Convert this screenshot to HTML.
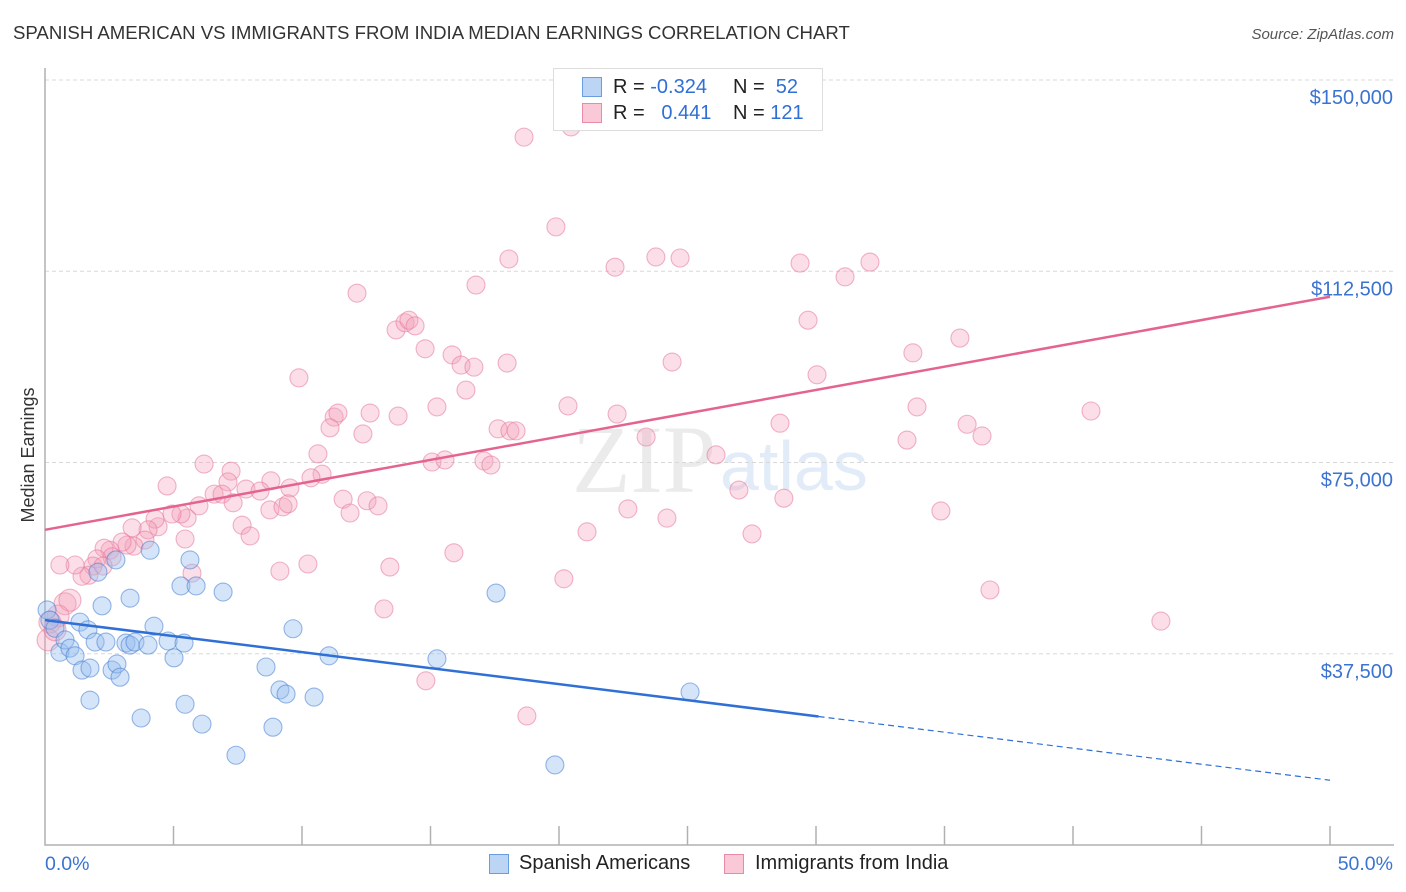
<!DOCTYPE html>
<html><head><meta charset="utf-8">
<style>
body{margin:0;background:#fff;font-family:"Liberation Sans",sans-serif;}
#wrap{position:relative;width:1406px;height:892px;overflow:hidden;}
</style></head>
<body><div id="wrap">
<svg id="svg" width="1406" height="892" xmlns="http://www.w3.org/2000/svg">
<text x="13" y="39" font-size="18.6" fill="#333">SPANISH AMERICAN VS IMMIGRANTS FROM INDIA MEDIAN EARNINGS CORRELATION CHART</text>
<text x="1394" y="39" font-size="15" fill="#555" font-style="italic" text-anchor="end">Source: ZipAtlas.com</text>
<text transform="translate(34,455) rotate(-90)" font-size="18" fill="#333" text-anchor="middle">Median Earnings</text>
<text x="716" y="492" font-size="96" fill="#ebebeb" text-anchor="end" font-family="Liberation Serif,serif">ZIP</text>
<text x="720" y="490" font-size="70" fill="#e2ecf8">atlas</text>
<g id="grid"></g><g id="pts"></g><g id="trend"></g>
</svg></div>
<script>
const yTicks=[37500,75000,112500,150000];
const yTickLabels=["$37,500","$75,000","$112,500","$150,000"];
const blueX=[0.08,0.19,0.39,0.58,0.78,0.97,1.17,1.36,1.44,1.67,1.75,2.06,1.75,1.95,2.22,2.37,2.61,2.80,2.92,2.76,3.15,3.31,3.31,3.50,3.74,4.01,4.09,4.24,4.79,5.02,5.29,5.41,5.45,5.64,5.88,6.11,6.93,7.43,8.60,8.87,9.14,9.38,9.65,10.47,11.05,15.25,17.55,19.84,25.10];
const blueY=[46.1,44.1,42.5,37.8,40.2,38.6,37.1,43.7,34.3,42.2,34.7,53.5,28.4,39.8,46.9,39.8,34.3,35.5,32.9,55.9,39.6,48.4,39.2,39.8,24.9,39.2,57.8,42.9,40.0,36.7,50.8,39.6,27.6,55.9,50.8,23.7,49.6,17.6,34.9,23.1,30.4,29.6,42.4,29.0,37.1,36.5,49.4,15.7,30.0];
const pinkX=[18.64,20.47,19.88,18.05,22.18,23.77,24.71,29.38,31.13,32.10,16.77,12.14,13.66,14.01,14.16,14.40,14.79,15.84,16.19,16.69,17.98,16.38,9.88,24.40,29.69,35.60,33.77,30.04,40.70,33.93,35.88,36.46,33.54,28.60,23.39,22.26,20.35,15.25,13.74,12.65,11.25,11.40,11.09,12.37,17.63,18.09,18.33,15.06,15.56,17.08,17.35,10.62,10.78,10.35,9.53,8.79,7.82,7.24,7.12,6.58,6.19,5.99,5.53,5.29,4.94,4.75,4.40,4.28,4.01,3.89,3.39,3.46,3.19,3.00,2.53,2.30,2.61,2.02,1.87,2.26,1.71,1.44,1.17,0.58,0.78,0.97,0.51,0.19,0.12,0.39,5.45,5.72,7.67,7.98,8.37,8.75,9.26,9.46,9.14,10.23,11.60,11.87,12.53,12.96,13.42,13.19,14.82,15.91,18.75,20.19,21.09,22.68,24.20,26.11,27.00,27.51,28.75,34.86,36.77,43.42,6.89,7.32];
const pinkY=[138.8,140.8,121.2,114.9,113.3,115.3,115.1,114.1,111.4,114.3,109.8,108.2,101.0,102.4,102.9,101.8,97.3,96.1,94.1,93.7,94.5,89.2,91.6,94.7,102.9,99.4,96.5,92.2,85.1,85.9,82.5,80.2,79.4,82.7,80.0,84.5,86.1,85.9,84.1,84.7,83.9,84.7,81.8,80.6,81.6,81.2,81.2,75.1,75.5,75.3,74.5,76.7,72.7,72.0,70.0,71.4,69.8,73.3,71.2,68.8,74.7,66.5,64.1,64.9,64.9,70.4,62.4,63.9,61.8,59.8,62.2,58.6,58.8,59.4,57.8,58.2,56.5,56.1,54.7,54.7,52.9,52.7,54.9,54.9,47.3,48.0,44.9,43.7,40.2,42.2,60.0,53.3,62.7,60.6,69.4,65.7,66.3,66.9,53.7,55.1,67.8,65.1,67.5,66.5,54.5,46.3,32.2,57.3,25.3,52.2,61.4,65.9,64.1,76.5,69.6,61.0,68.0,65.5,50.0,43.9,68.8,67.1];
const blueTrend=[44.1,12.7]; const blueSolidEnd=30.1;
const pinkTrend=[61.8,107.5];
const X0=45,X1=1330,Y0=845;
const sx=p=>X0+(p/50)*(X1-X0);
const sy=v=>Y0-v*(765/150000);
const NS="http://www.w3.org/2000/svg";
function mk(tag,attrs,parent){const e=document.createElementNS(NS,tag);for(const k in attrs)e.setAttribute(k,attrs[k]);parent.appendChild(e);return e;}
const svg=document.getElementById('svg'),grid=document.getElementById('grid'),pts=document.getElementById('pts'),tr=document.getElementById('trend');
yTicks.forEach((t,i)=>{
 const l=mk('line',{x1:X0,x2:1394,y1:sy(t),y2:sy(t),stroke:'#d8d8d8','stroke-dasharray':'4,3'},grid);
 
 
 const tx=mk('text',{x:1393,y:sy(t)+24,'font-size':20,fill:'#3b73d0','text-anchor':'end'},grid);
 tx.textContent=yTickLabels[i];
 
 
});
const ax=mk('path',{d:`M${X0} 68 V${Y0} H${X1+64}`,fill:'none',stroke:'#b0b0b0','stroke-width':1.5},grid);


for(let k=1;k<=10;k++){const x=X0+k*(X1-X0)/10;
 const t=mk('line',{x1:x,x2:x,y1:826,y2:Y0,stroke:'#b0b0b0','stroke-width':1.5},grid);
 
 }
[["0.0%",X0,'start'],["50.0%",1393,'end']].forEach(([s,x,a])=>{const t=mk('text',{x:x,y:870,'font-size':19.5,fill:'#3b73d0','text-anchor':a},grid);t.textContent=s;
 
 });
pinkX.forEach((x,i)=>{const c=mk('circle',{cx:sx(x),cy:sy(pinkY[i]*1000),r:i>=84&&i<90?11:9,fill:'rgba(244,160,185,0.35)',stroke:'rgba(230,120,155,0.55)','stroke-width':1.1},pts);
 
 });
blueX.forEach((x,i)=>{const c=mk('circle',{cx:sx(x),cy:sy(blueY[i]*1000),r:9,fill:'rgba(150,190,240,0.4)',stroke:'rgba(70,125,210,0.55)','stroke-width':1.1},pts);
 
 });
const bAt=p=>blueTrend[0]+(blueTrend[1]-blueTrend[0])*p/50;
let l=mk('line',{x1:sx(0),y1:sy(bAt(0)*1000),x2:sx(blueSolidEnd),y2:sy(bAt(blueSolidEnd)*1000),stroke:'#2f6fd6','stroke-width':2.5},tr);


l=mk('line',{x1:sx(blueSolidEnd),y1:sy(bAt(blueSolidEnd)*1000),x2:sx(50),y2:sy(bAt(50)*1000),stroke:'#2f6fd6','stroke-width':1.2,'stroke-dasharray':'6,4'},tr);


l=mk('line',{x1:sx(0),y1:sy(pinkTrend[0]*1000),x2:sx(50),y2:sy(pinkTrend[1]*1000),stroke:'#e4648f','stroke-width':2.5},tr);


</script>
<div style="position:absolute;left:553px;top:68px;width:268px;height:61px;border:1px solid #ddd;background:#fff;font-size:20px;color:#222;">
 <div style="position:absolute;left:28px;top:7px;width:240px;height:23px;">
  <span style="position:absolute;left:0;top:1px;width:18px;height:18px;background:#bcd5f5;border:1px solid #6a9de0;"></span>
  <span style="position:absolute;left:31px;top:0;">R = <span style="color:#2f6fd6">-0.324</span></span>
  <span style="position:absolute;left:151px;top:0;">N = &nbsp;<span style="color:#2f6fd6">52</span></span>
 </div>
 <div style="position:absolute;left:28px;top:33px;width:240px;height:23px;">
  <span style="position:absolute;left:0;top:1px;width:18px;height:18px;background:#f9c9d8;border:1px solid #e88aa8;"></span>
  <span style="position:absolute;left:31px;top:0;">R = &nbsp;&nbsp;<span style="color:#2f6fd6">0.441</span></span>
  <span style="position:absolute;left:151px;top:0;">N = <span style="color:#2f6fd6">121</span></span>
 </div>
</div>
<div style="position:absolute;left:0;top:852px;width:1406px;height:26px;font-size:20px;color:#222;">
 <span style="position:absolute;left:489px;top:2px;width:18px;height:18px;background:#bcd5f5;border:1px solid #6a9de0;"></span>
 <span style="position:absolute;left:519px;top:0px;">Spanish Americans</span>
 <span style="position:absolute;left:724px;top:2px;width:18px;height:18px;background:#f9c9d8;border:1px solid #e88aa8;"></span>
 <span style="position:absolute;left:755px;top:0px;">Immigrants from India</span>
</div>
</body></html>
